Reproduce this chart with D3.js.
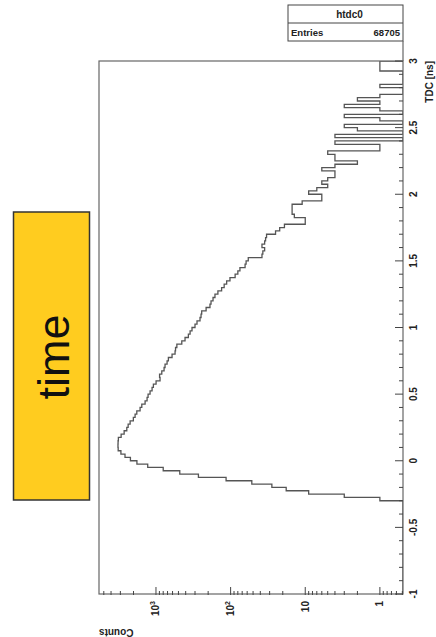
<!DOCTYPE html>
<html>
<head>
<meta charset="utf-8">
<script src="https://cdn.jsdelivr.net/npm/d3@7"></script>
<style>
  body { margin: 0; background: #fff; }
  svg { display: block; }
  text { font-family: "Liberation Sans", Arial, Helvetica, sans-serif; fill: #222; }
</style>
</head>
<body>
<svg id="chart" width="436" height="637"></svg>
<script>
// ---- histogram binning (TDC time, ns) ----
const tdcMin = -1;
const tdcMax = 3;
// bin contents, 160 bins of 0.025 ns from -1 to 3
const counts = [
  0,0,0,0,0,0,0,0,0,0, 0,0,0,0,0,0,0,0,0,0, 0,0,0,0,0,0,0,0,
  1,3,9,18,28,52,115,270,480,800,1290,1800,
  2200,2600,2950,3210,3230,3220,3190,2930,2670,2460,
  2360,2220,2010,1905,1807,1633,1549,1399,1316,1276,
  1200,1128,1083,997,882,895,836,779,756,710,
  682,609,555,547,525,451,408,368,349,329,
  300,282,257,249,244,213,189,183,172,162,
  148,132,122,113,102,87,80,75,64,62,
  58,38,37,35,38,35,34,33,25,22,
  19,10,10,14,15,15,15,11,6,6,
  9,7,5,6,5,4,4,6,4,2,
  4,4,5,1,1,4,0,4,0,2,
  3,0,1,3,0,1,3,1,2,1,
  0,0,1,0,0,0,0,1,1,1
];

// ---- axis ticks and labels ----
const tdcTicks = [-1, -0.5, 0, 0.5, 1, 1.5, 2, 2.5, 3];
const tdcTickLabels = ["-1", "-0.5", "0", "0.5", "1", "1.5", "2", "2.5", "3"];
const countTicks = [1, 10, 100, 1000];
const countTickBase = ["1", "10", "10", "10"];
const countTickExp = ["", "", "2", "3"];
const tdcTitle = "TDC [ns]";
const countTitle = "Counts";

// ---- stats box / label ----
const histName = "htdc0";
const entriesLabel = "Entries";
const entries = 68705;
const tagText = "time";

const svg = d3.select("#chart");
svg.append("rect").attr("width", 436).attr("height", 637).attr("fill", "#fff");

// frame geometry (the plot is drawn turned a quarter turn: TDC runs upward, counts run leftward)
const fx0 = 99, fx1 = 403, fy0 = 61, fy1 = 594;

const yT = d3.scaleLinear().domain([tdcMin, tdcMax]).range([fy1, fy0]);
const xC = d3.scaleLog().domain([0.49, 5800]).range([fx1, fx0]);

const nBins = counts.length;
const bw = (tdcMax - tdcMin) / nBins;

// histogram outline as steps
const cx = c => c > 0 ? xC(c) : fx1;
let pts = [[fx1, yT(tdcMin)]];
counts.forEach((c, i) => {
  const t0 = tdcMin + i * bw, t1 = t0 + bw;
  pts.push([cx(c), yT(t0)]);
  pts.push([cx(c), yT(t1)]);
});
pts.push([fx1, yT(tdcMax)]);

svg.append("defs").append("clipPath").attr("id", "frameClip")
  .append("rect").attr("x", fx0).attr("y", fy0).attr("width", fx1 - fx0).attr("height", fy1 - fy0);

svg.append("path")
  .attr("d", d3.line()(pts))
  .attr("fill", "none")
  .attr("stroke", "#555")
  .attr("stroke-width", 1.3)
  .attr("clip-path", "url(#frameClip)");

// frame
svg.append("rect")
  .attr("x", fx0).attr("y", fy0)
  .attr("width", fx1 - fx0).attr("height", fy1 - fy0)
  .attr("fill", "none").attr("stroke", "#666").attr("stroke-width", 1.2);

const axisColor = "#444";

// TDC axis on the right edge: ticks point into the frame
const tdcMinor = d3.range(0, 41).map(k => tdcMin + k * 0.1);
svg.append("g").selectAll("line").data(tdcMinor).join("line")
  .attr("x1", fx1)
  .attr("x2", (d, i) => fx1 - (i % 5 === 0 ? 8 : 4))
  .attr("y1", d => yT(d)).attr("y2", d => yT(d))
  .attr("stroke", axisColor).attr("stroke-width", 1);

svg.append("g").selectAll("text").data(tdcTicks).join("text")
  .attr("transform", d => `translate(417,${yT(d)}) rotate(-90)`)
  .attr("text-anchor", "middle")
  .attr("font-size", 10)
  .attr("font-weight", "bold")
  .text((d, i) => tdcTickLabels[i]);

svg.append("text")
  .attr("transform", `translate(433,${fy0}) rotate(-90)`)
  .attr("text-anchor", "end")
  .attr("font-size", 10)
  .attr("font-weight", "bold")
  .text(tdcTitle);

// count axis along the bottom edge (logarithmic)
const cMinor = [];
[-1, 0, 1, 2, 3].forEach(d => {
  for (let m = 1; m <= 9; m++) {
    const v = m * Math.pow(10, d);
    if (v >= xC.domain()[0] && v <= xC.domain()[1]) cMinor.push({ v, major: m === 1 });
  }
});
svg.append("g").selectAll("line").data(cMinor).join("line")
  .attr("x1", d => xC(d.v)).attr("x2", d => xC(d.v))
  .attr("y1", fy1 + 1)
  .attr("y2", d => fy1 + 1 - (d.major ? 8 : 4))
  .attr("stroke", axisColor).attr("stroke-width", 1);

const cl = svg.append("g").selectAll("text").data(countTicks).join("text")
  .attr("transform", d => `translate(${xC(d) + 3.5},601) rotate(-90)`)
  .attr("text-anchor", "end")
  .attr("font-size", 10)
  .attr("font-weight", "bold");
cl.append("tspan").text((d, i) => countTickBase[i]);
cl.filter((d, i) => countTickExp[i] !== "")
  .append("tspan")
  .attr("font-size", 7)
  .attr("dy", -4)
  .text(d => countTickExp[countTicks.indexOf(d)]);

svg.append("text")
  .attr("transform", `translate(${fx0},629) rotate(180)`)
  .attr("text-anchor", "end")
  .attr("font-size", 10)
  .attr("font-weight", "bold")
  .text(countTitle);

// stats box, sharing the frame's right edge
const sb = { x: 288, y: 5, w: fx1 - 288, h: 36, split: 23 };
svg.append("rect")
  .attr("x", sb.x).attr("y", sb.y).attr("width", sb.w).attr("height", sb.h)
  .attr("fill", "#fff").attr("stroke", "#444").attr("stroke-width", 1);
svg.append("line")
  .attr("x1", sb.x).attr("x2", sb.x + sb.w)
  .attr("y1", sb.split).attr("y2", sb.split)
  .attr("stroke", "#444").attr("stroke-width", 1);
svg.append("line")
  .attr("x1", fx1).attr("x2", fx1)
  .attr("y1", sb.y + sb.h).attr("y2", fy0)
  .attr("stroke", "#666").attr("stroke-width", 1.2);
svg.append("text")
  .attr("x", sb.x + sb.w / 2 + 4).attr("y", 18)
  .attr("text-anchor", "middle").attr("font-size", 10).attr("font-weight", "bold")
  .text(histName);
svg.append("text")
  .attr("x", sb.x + 3).attr("y", 36)
  .attr("font-size", 9.5).attr("font-weight", "bold")
  .text(entriesLabel);
svg.append("text")
  .attr("x", sb.x + sb.w - 3).attr("y", 36)
  .attr("text-anchor", "end").attr("font-size", 9.5).attr("font-weight", "bold")
  .text(entries);

// yellow tag
svg.append("rect")
  .attr("x", 13.5).attr("y", 212).attr("width", 76).attr("height", 288)
  .attr("fill", "#FFCC1F").attr("stroke", "#333").attr("stroke-width", 1.5);
svg.append("text")
  .attr("transform", "translate(69,357) rotate(-90)")
  .attr("text-anchor", "middle")
  .attr("font-size", 45)
  .style("fill", "#111")
  .text(tagText);
</script>
</body>
</html>
